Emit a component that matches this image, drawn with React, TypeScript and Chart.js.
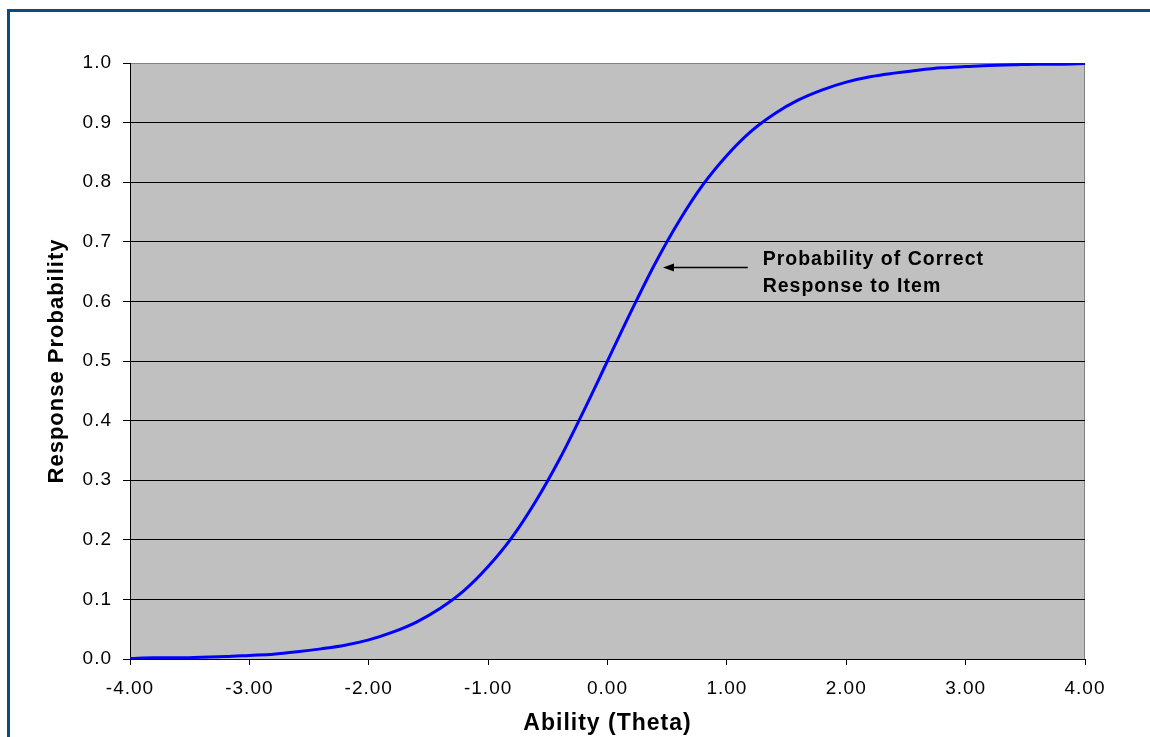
import { useEffect, useRef } from "react"
import { Chart, registerables, type ChartConfiguration, type Plugin } from "chart.js"

Chart.register(...registerables)

const FONT = '"Liberation Sans", Arial, sans-serif'

// ability (theta) values and the response probability
const thetaValues = [
  -4.0, -3.8, -3.6, -3.4, -3.2, -3.0, -2.8, -2.6, -2.4, -2.2,
  -2.0, -1.8, -1.6, -1.4, -1.2, -1.0, -0.8, -0.6, -0.4, -0.2,
  0.0, 0.2, 0.4, 0.6, 0.8, 1.0, 1.2, 1.4, 1.6, 1.8,
  2.0, 2.2, 2.4, 2.6, 2.8, 3.0, 3.2, 3.4, 3.6, 3.8, 4.0,
]
const probabilityValues = [
  0.001, 0.002, 0.002, 0.003, 0.004, 0.006, 0.008, 0.012, 0.017, 0.023,
  0.032, 0.045, 0.062, 0.085, 0.115, 0.155, 0.204, 0.265, 0.336, 0.416,
  0.5, 0.584, 0.664, 0.735, 0.796, 0.845, 0.885, 0.915, 0.938, 0.955,
  0.968, 0.977, 0.983, 0.988, 0.992, 0.994, 0.996, 0.997, 0.998, 0.998, 0.999,
]

const xTitle = "Ability (Theta)"
const yTitle = "Response Probability"

// callout, in data units
const noteLines = ["Probability of Correct", "Response to Item"]
const noteTextTheta = 1.3
const noteTextP = [0.661, 0.616]
const arrowFromTheta = 1.175
const arrowToTheta = 0.465
const arrowP = 0.657

// the original text is rendered a bit wider than plain Arial
const letterSpacing: Plugin = {
  id: "letterSpacing",
  beforeLayout(chart) {
    ;(chart.ctx as any).letterSpacing = "1px"
  },
  beforeDraw(chart) {
    ;(chart.ctx as any).letterSpacing = "1px"
  },
}

const plotFrame: Plugin = {
  id: "plotFrame",
  beforeDraw(chart) {
    const { ctx, chartArea: a } = chart
    ctx.save()
    ctx.fillStyle = "#c0c0c0"
    ctx.fillRect(a.left, a.top, a.width, a.height)
    ctx.strokeStyle = "#808080"
    ctx.lineWidth = 1
    ctx.strokeRect(a.left + 0.5, a.top + 0.5, a.width - 1, a.height)
    ctx.restore()
  },
}

const callout: Plugin = {
  id: "callout",
  afterDatasetsDraw(chart) {
    const { ctx, scales } = chart
    const x = scales.x
    const y = scales.y
    const x1 = x.getPixelForValue(arrowFromTheta)
    const x2 = x.getPixelForValue(arrowToTheta)
    const ay = Math.round(y.getPixelForValue(arrowP)) + 0.5

    ctx.save()
    ctx.strokeStyle = "#000"
    ctx.fillStyle = "#000"
    ctx.lineWidth = 1.5
    ctx.beginPath()
    ctx.moveTo(x1, ay)
    ctx.lineTo(x2 + 8, ay)
    ctx.stroke()
    ctx.beginPath()
    ctx.moveTo(x2, ay)
    ctx.lineTo(x2 + 11, ay - 4)
    ctx.lineTo(x2 + 11, ay + 4)
    ctx.closePath()
    ctx.fill()

    ctx.font = `bold 19.5px ${FONT}`
    ctx.textAlign = "left"
    ctx.textBaseline = "alphabetic"
    const tx = x.getPixelForValue(noteTextTheta)
    noteLines.forEach((line, i) => {
      ctx.fillText(line, tx, y.getPixelForValue(noteTextP[i]))
    })
    ctx.restore()
  },
}

export default function App() {
  const chartRef = useRef<HTMLCanvasElement>(null)
  const chartInstanceRef = useRef<Chart | null>(null)

  useEffect(() => {
    if (!chartRef.current) return
    const ctx = chartRef.current.getContext("2d")
    if (!ctx) return

    if (chartInstanceRef.current) {
      chartInstanceRef.current.destroy()
    }

    const config: ChartConfiguration = {
      type: "scatter",
      data: {
        datasets: [
          {
            label: "Probability of Correct Response",
            data: thetaValues.map((t, i) => ({ x: t, y: probabilityValues[i] })),
            showLine: true,
            borderColor: "#0000ff",
            backgroundColor: "#0000ff",
            borderWidth: 3,
            pointRadius: 0,
            cubicInterpolationMode: "monotone",
          } as any,
        ],
      },
      options: {
        animation: false,
        responsive: true,
        maintainAspectRatio: false,
        layout: { padding: { top: 63, right: 65, bottom: 0, left: 0 } },
        plugins: {
          legend: { display: false },
          tooltip: { enabled: false },
        },
        scales: {
          x: {
            type: "linear",
            position: "bottom",
            min: -4,
            max: 4,
            afterFit: (s: any) => {
              s.height = 78
            },
            ticks: {
              stepSize: 1,
              autoSkip: false,
              maxRotation: 0,
              padding: 12,
              color: "#000",
              font: { family: FONT, size: 19 },
              callback: (v: any) => Number(v).toFixed(2),
            },
            grid: {
              drawOnChartArea: false,
              drawTicks: true,
              tickLength: 6,
              color: "#000",
            },
            border: { color: "#000", width: 1 },
            title: {
              display: true,
              text: xTitle,
              color: "#000",
              font: { family: FONT, size: 23, weight: "bold" },
              padding: { top: 0, bottom: 0 },
            },
          },
          y: {
            type: "linear",
            min: 0,
            max: 1,
            afterFit: (s: any) => {
              s.width = 130
            },
            ticks: {
              stepSize: 0.1,
              padding: 11,
              color: "#000",
              font: { family: FONT, size: 19 },
              callback: (v: any) => Number(v).toFixed(1),
            },
            grid: {
              color: (c: any) => (Math.abs(c.tick.value - 1) < 1e-9 ? "#808080" : "#000"),
              tickColor: "#000",
              tickLength: 7,
            },
            border: { color: "#000", width: 1 },
            title: {
              display: true,
              text: yTitle,
              color: "#000",
              font: { family: FONT, size: 22, weight: "bold" },
              padding: { top: 44, bottom: 0 },
            },
          },
        },
      },
      plugins: [letterSpacing, plotFrame, callout],
    }

    chartInstanceRef.current = new Chart(ctx, config)

    return () => {
      if (chartInstanceRef.current) {
        chartInstanceRef.current.destroy()
        chartInstanceRef.current = null
      }
    }
  }, [])

  return (
    <div style={{ position: "fixed", left: 0, top: 0, width: 1150, height: 737, background: "#fff" }}>
      <div
        style={{
          position: "absolute",
          left: 7,
          top: 9,
          right: 0,
          bottom: 0,
          borderLeft: "3px solid #0f4a7e",
          borderTop: "3px solid #0f4a7e",
        }}
      />
      <div style={{ position: "absolute", left: 0, top: 0, width: 1150, height: 737 }}>
        <canvas ref={chartRef}></canvas>
      </div>
    </div>
  )
}
